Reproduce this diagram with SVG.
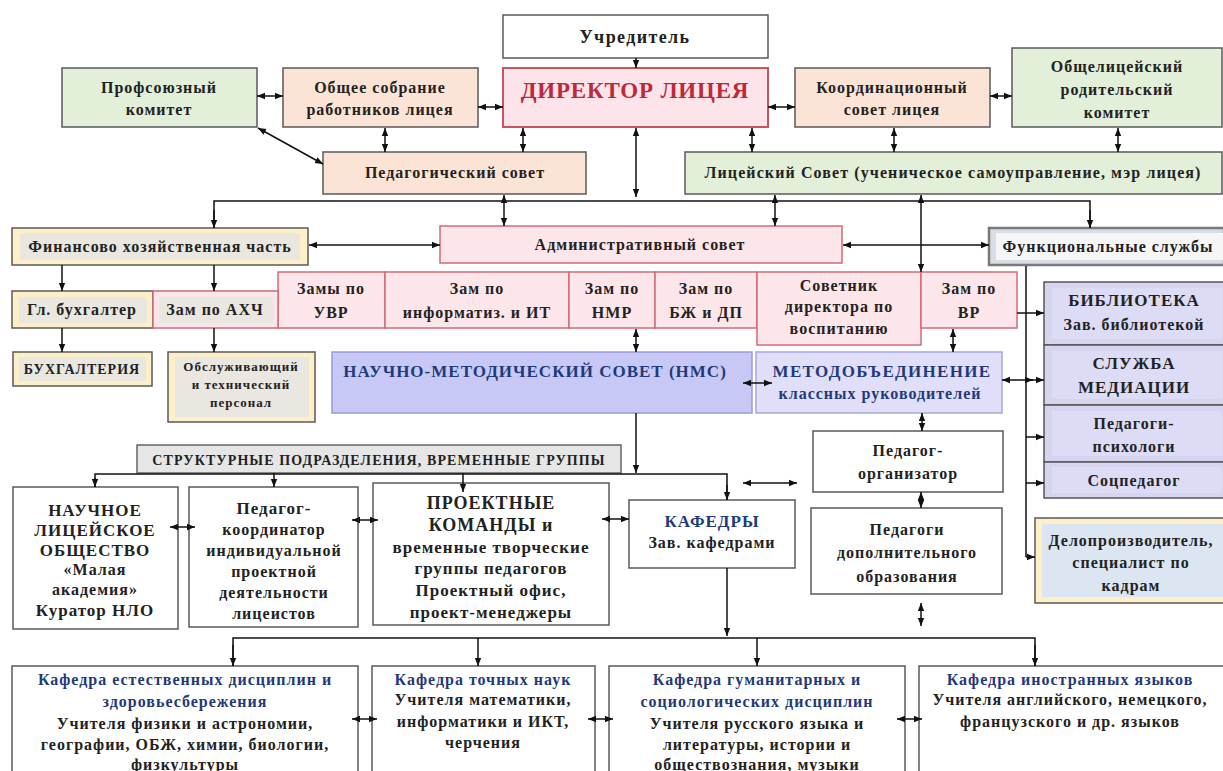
<svg xmlns="http://www.w3.org/2000/svg" width="1223" height="771" viewBox="0 0 1223 771">
<defs>
<marker id="a" viewBox="0 0 10 10" refX="10" refY="5" markerWidth="8" markerHeight="8" markerUnits="userSpaceOnUse" orient="auto-start-reverse"><path d="M0,1 L10,5 L0,9 z" fill="#111"/></marker>
<style>
.b{stroke:#5a5a5a;stroke-width:1.5}
.w{fill:#fff}
.pe{fill:#fbe4d5}
.gr{fill:#e2efd9}
.pk{fill:#fde6ea;stroke:#d46a7a;stroke-width:1.5}
.dir{fill:#fde4ea;stroke:#c9535f;stroke-width:2}
.be{fill:#fdf0c8}
.gi{fill:#e9e7df}
.fs{fill:#d8dde6;stroke:#7a7a7a;stroke-width:2.5}
.lv{fill:#d5d5ef;stroke:#555;stroke-width:1.5}
.lvi{fill:#dcdcf6}
.nms{fill:#c8c8f6;stroke:#9a9ad8;stroke-width:1.5}
.met{fill:#e0def8;stroke:#a7a7dc;stroke-width:1.5}
.bar{fill:#e6e6e6;stroke:#666;stroke-width:1.5}
.t{font-family:"Liberation Serif","Times New Roman",serif;font-weight:bold;font-size:16px;text-anchor:middle;fill:#222;letter-spacing:1px}
.s{font-size:13px}
.m{font-size:14px}
.l{font-size:17px}
.bl{fill:#1f3a7a}
.c line,.c path{stroke:#111;stroke-width:1.5;fill:none}
</style>
</defs>

<g id="uchreditel"><rect class="b w" x="503" y="15" width="265" height="43"/><text class="t" x="635" y="43" style="font-size:18px;letter-spacing:1.4px">Учредитель</text></g>
<g id="director"><rect class="dir" x="503" y="68" width="265" height="59"/><text class="t" x="635" y="98" style="font-size:23px;fill:#c0283a;letter-spacing:0.8px">ДИРЕКТОР ЛИЦЕЯ</text></g>
<g id="profkom"><rect class="b gr" x="62" y="68" width="195" height="59"/><text class="t" x="159" y="93">Профсоюзный</text><text class="t" x="159" y="115">комитет</text></g>
<g id="obshchee"><rect class="b pe" x="283" y="68" width="195" height="59"/><text class="t" x="380" y="93">Общее собрание</text><text class="t" x="380" y="115">работников лицея</text></g>
<g id="koord"><rect class="b pe" x="795" y="68" width="195" height="59"/><text class="t" x="892" y="93">Координационный</text><text class="t" x="892" y="115">совет лицея</text></g>
<g id="roditel"><rect class="b gr" x="1012" y="48" width="210" height="79"/><text class="t" x="1117" y="72">Общелицейский</text><text class="t" x="1117" y="95">родительский</text><text class="t" x="1117" y="118">комитет</text></g>
<g id="pedsovet"><rect class="b pe" x="323" y="152" width="263" height="42"/><text class="t" x="455" y="178">Педагогический совет</text></g>
<g id="litsovet"><rect class="b gr" x="685" y="152" width="537" height="42"/><text class="t" x="953" y="178" style="letter-spacing:1.1px">Лицейский Совет (ученическое самоуправление, мэр лицея)</text></g>

<g id="finance"><rect class="b be" x="12" y="228" width="296" height="37"/><rect class="gi" x="20" y="233" width="280" height="27"/><text class="t" x="160" y="252">Финансово хозяйственная часть</text></g>
<g id="admsovet"><rect class="pk" x="440" y="226" width="402" height="37"/><text class="t" x="640" y="250">Административный совет</text></g>
<g id="funcserv"><rect class="fs" x="989" y="228" width="235" height="37"/><rect fill="#f6f6f6" x="996" y="233" width="228" height="27"/><text class="t" x="1108" y="252">Функциональные службы</text></g>

<g id="uvr"><rect class="pk" x="278" y="272" width="107" height="56"/><text class="t" x="331" y="294">Замы по</text><text class="t" x="331" y="318">УВР</text></g>
<g id="it"><rect class="pk" x="385" y="272" width="184" height="56"/><text class="t" x="477" y="294">Зам по</text><text class="t" x="477" y="318">информатиз. и ИТ</text></g>
<g id="nmr"><rect class="pk" x="569" y="272" width="86" height="56"/><text class="t" x="612" y="294">Зам по</text><text class="t" x="612" y="318">НМР</text></g>
<g id="bzh"><rect class="pk" x="655" y="272" width="102" height="56"/><text class="t" x="706" y="294">Зам по</text><text class="t" x="706" y="318">БЖ и ДП</text></g>
<g id="sovetnik"><rect class="pk" x="757" y="272" width="164" height="73"/><text class="t" x="839" y="291">Советник</text><text class="t" x="839" y="312">директора по</text><text class="t" x="839" y="334">воспитанию</text></g>
<g id="vr"><rect class="pk" x="921" y="272" width="96" height="56"/><text class="t" x="969" y="294">Зам по</text><text class="t" x="969" y="318">ВР</text></g>
<g id="glbuh"><rect class="b be" x="12" y="291" width="141" height="37"/><rect class="gi" x="19" y="297" width="128" height="26"/><text class="t" x="82" y="315">Гл. бухгалтер</text></g>
<g id="ahch"><rect class="pk" x="153" y="291" width="125" height="37"/><rect class="gi" x="159" y="297" width="114" height="26"/><text class="t" x="215" y="315">Зам по АХЧ</text></g>
<g id="buhg"><rect class="b be" x="13" y="352" width="139" height="34"/><rect class="gi" x="19" y="357" width="127" height="24"/><text class="t m" x="82" y="374">БУХГАЛТЕРИЯ</text></g>
<g id="obsl"><rect class="b be" x="168" y="352" width="147" height="70"/><rect class="gi" x="175" y="357" width="134" height="60"/><text class="t s" x="241" y="371">Обслуживающий</text><text class="t s" x="241" y="389">и технический</text><text class="t s" x="241" y="407">персонал</text></g>

<g id="nms"><rect class="nms" x="332" y="352" width="420" height="61"/><text class="t bl" x="535" y="377" style="font-size:17px">НАУЧНО-МЕТОДИЧЕСКИЙ СОВЕТ (НМС)</text></g>
<g id="metod"><rect class="met" x="756" y="352" width="246" height="61"/><text class="t bl" x="882" y="377" style="font-size:17px;letter-spacing:1.3px">МЕТОДОБЪЕДИНЕНИЕ</text><text class="t bl" x="880" y="399">классных руководителей</text></g>

<g id="biblio"><rect class="lv" x="1044" y="282" width="180" height="63"/><rect class="lvi" x="1052" y="288" width="170" height="51"/><text class="t" x="1134" y="306" style="font-size:17px">БИБЛИОТЕКА</text><text class="t" x="1134" y="330">Зав. библиотекой</text></g>
<g id="mediac"><rect class="lv" x="1044" y="345" width="180" height="60"/><rect class="lvi" x="1052" y="351" width="170" height="48"/><text class="t" x="1134" y="369" style="font-size:17px">СЛУЖБА</text><text class="t" x="1134" y="393" style="font-size:17px">МЕДИАЦИИ</text></g>
<g id="psych"><rect class="lv" x="1044" y="405" width="180" height="57"/><rect class="lvi" x="1052" y="411" width="170" height="45"/><text class="t" x="1134" y="429">Педагоги-</text><text class="t" x="1134" y="452">психологи</text></g>
<g id="socped"><rect class="lv" x="1044" y="462" width="180" height="36"/><rect class="lvi" x="1052" y="467" width="170" height="26"/><text class="t" x="1134" y="486">Соцпедагог</text></g>
<g id="delopr"><rect class="b be" x="1035" y="518" width="190" height="85"/><rect fill="#dce5f2" x="1042" y="524" width="182" height="73"/><text class="t" x="1131" y="546">Делопроизводитель,</text><text class="t" x="1131" y="568">специалист по</text><text class="t" x="1131" y="591">кадрам</text></g>

<g id="pedorg"><rect class="b w" x="813" y="431" width="190" height="61"/><text class="t" x="908" y="456">Педагог-</text><text class="t" x="908" y="479">организатор</text></g>
<g id="peddop"><rect class="b w" x="811" y="508" width="191" height="86"/><text class="t" x="907" y="535">Педагоги</text><text class="t" x="907" y="558">дополнительного</text><text class="t" x="907" y="582">образования</text></g>

<g id="struct"><rect class="bar" x="137" y="445" width="484" height="28"/><text class="t m" x="379" y="465" style="letter-spacing:1.1px">СТРУКТУРНЫЕ ПОДРАЗДЕЛЕНИЯ, ВРЕМЕННЫЕ ГРУППЫ</text></g>
<g id="nlo"><rect class="b w" x="13" y="487" width="165" height="142"/><text class="t l" x="95" y="516">НАУЧНОЕ</text><text class="t l" x="95" y="536">ЛИЦЕЙСКОЕ</text><text class="t l" x="95" y="556">ОБЩЕСТВО</text><text class="t" x="95" y="575">«Малая</text><text class="t" x="95" y="595">академия»</text><text class="t l" x="95" y="616">Куратор НЛО</text></g>
<g id="pedkoord"><rect class="b w" x="189" y="487" width="169" height="140"/><text class="t l" x="274" y="514">Педагог-</text><text class="t" x="274" y="535">координатор</text><text class="t" x="274" y="556">индивидуальной</text><text class="t" x="274" y="577">проектной</text><text class="t" x="274" y="598">деятельности</text><text class="t" x="274" y="619">лицеистов</text></g>
<g id="proekt"><rect class="b w" x="373" y="483" width="236" height="142"/><text class="t" x="491" y="509" style="font-size:18px">ПРОЕКТНЫЕ</text><text class="t" x="491" y="531" style="font-size:18px">КОМАНДЫ и</text><text class="t l" x="491" y="553">временные творческие</text><text class="t l" x="491" y="574">группы педагогов</text><text class="t l" x="491" y="596">Проектный офис,</text><text class="t l" x="491" y="618">проект-менеджеры</text></g>
<g id="kafedry"><rect class="b w" x="629" y="500" width="166" height="68"/><text class="t bl" x="712" y="527" style="font-size:17px">КАФЕДРЫ</text><text class="t" x="712" y="548">Зав. кафедрами</text></g>

<g id="kaf1"><rect class="b w" x="12" y="666" width="346" height="120"/><text class="t bl" x="185" y="685">Кафедра естественных дисциплин и</text><text class="t bl" x="185" y="707">здоровьесбережения</text><text class="t" x="185" y="729">Учителя физики и астрономии,</text><text class="t" x="185" y="750">географии, ОБЖ, химии, биологии,</text><text class="t" x="185" y="770">физкультуры</text></g>
<g id="kaf2"><rect class="b w" x="372" y="666" width="223" height="120"/><text class="t bl" x="483" y="685">Кафедра точных наук</text><text class="t" x="483" y="705">Учителя математики,</text><text class="t" x="483" y="727">информатики и ИКТ,</text><text class="t" x="483" y="748">черчения</text></g>
<g id="kaf3"><rect class="b w" x="609" y="666" width="296" height="120"/><text class="t bl" x="757" y="685">Кафедра гуманитарных и</text><text class="t bl" x="757" y="707">социологических дисциплин</text><text class="t" x="757" y="729">Учителя русского языка и</text><text class="t" x="757" y="750">литературы, истории и</text><text class="t" x="757" y="770">обществознания, музыки</text></g>
<g id="kaf4"><rect class="b w" x="919" y="666" width="305" height="120"/><text class="t bl" x="1070" y="685">Кафедра иностранных языков</text><text class="t" x="1070" y="705">Учителя английского, немецкого,</text><text class="t" x="1070" y="727">французского и др. языков</text></g>

<g class="c" id="connectors">
<line x1="636" y1="58" x2="636" y2="68" marker-end="url(#a)"/>
<line x1="257" y1="96" x2="283" y2="96" marker-start="url(#a)" marker-end="url(#a)"/>
<line x1="478" y1="107" x2="503" y2="107" marker-start="url(#a)" marker-end="url(#a)"/>
<line x1="768" y1="107" x2="795" y2="107" marker-start="url(#a)" marker-end="url(#a)"/>
<line x1="990" y1="96" x2="1012" y2="96" marker-start="url(#a)" marker-end="url(#a)"/>
<line x1="258" y1="128" x2="323" y2="164" marker-start="url(#a)" marker-end="url(#a)"/>
<line x1="385" y1="128" x2="385" y2="152" marker-start="url(#a)" marker-end="url(#a)"/>
<line x1="523" y1="128" x2="523" y2="152" marker-start="url(#a)" marker-end="url(#a)"/>
<line x1="636" y1="128" x2="636" y2="197" marker-start="url(#a)" marker-end="url(#a)"/>
<line x1="752" y1="128" x2="752" y2="152" marker-start="url(#a)" marker-end="url(#a)"/>
<line x1="894" y1="128" x2="894" y2="152" marker-start="url(#a)" marker-end="url(#a)"/>
<line x1="1118" y1="128" x2="1118" y2="152" marker-start="url(#a)" marker-end="url(#a)"/>
<path d="M214,228 V201 H1090 V228"/>
<line x1="214" y1="210" x2="214" y2="228" marker-end="url(#a)"/>
<line x1="1090" y1="210" x2="1090" y2="228" marker-end="url(#a)"/>
<line x1="504" y1="195" x2="504" y2="226" marker-start="url(#a)" marker-end="url(#a)"/>
<line x1="775" y1="195" x2="775" y2="226" marker-start="url(#a)" marker-end="url(#a)"/>
<line x1="921" y1="195" x2="921" y2="272" marker-start="url(#a)" marker-end="url(#a)"/>
<line x1="309" y1="245" x2="440" y2="245" marker-start="url(#a)" marker-end="url(#a)"/>
<line x1="843" y1="245" x2="989" y2="245" marker-start="url(#a)" marker-end="url(#a)"/>
<line x1="62" y1="265" x2="62" y2="291" marker-end="url(#a)"/>
<line x1="214" y1="265" x2="214" y2="291" marker-end="url(#a)"/>
<line x1="62" y1="328" x2="62" y2="352" marker-end="url(#a)"/>
<line x1="214" y1="328" x2="214" y2="352" marker-end="url(#a)"/>
<line x1="636" y1="329" x2="636" y2="352" marker-start="url(#a)" marker-end="url(#a)"/>
<line x1="953" y1="329" x2="953" y2="352" marker-start="url(#a)" marker-end="url(#a)"/>
<line x1="1017" y1="313" x2="1044" y2="313" marker-end="url(#a)"/>
<line x1="1026" y1="266" x2="1026" y2="557"/>
<line x1="1002" y1="380" x2="1033" y2="380" marker-start="url(#a)" marker-end="url(#a)"/>
<line x1="1026" y1="380" x2="1044" y2="380" marker-end="url(#a)"/>
<line x1="1026" y1="437" x2="1044" y2="437" marker-end="url(#a)"/>
<line x1="1026" y1="483" x2="1044" y2="483" marker-end="url(#a)"/>
<line x1="1026" y1="557" x2="1035" y2="557" marker-end="url(#a)"/>
<line x1="743" y1="383" x2="772" y2="383" marker-start="url(#a)" marker-end="url(#a)"/>
<line x1="922" y1="413" x2="922" y2="431" marker-start="url(#a)" marker-end="url(#a)"/>
<line x1="921" y1="492" x2="921" y2="508" marker-start="url(#a)" marker-end="url(#a)"/>
<line x1="921" y1="603" x2="921" y2="626" marker-start="url(#a)" marker-end="url(#a)"/>
<line x1="636" y1="413" x2="636" y2="473" marker-end="url(#a)"/>
<path d="M95,487 V474 H727 V500"/>
<line x1="95" y1="478" x2="95" y2="487" marker-end="url(#a)"/>
<line x1="727" y1="485" x2="727" y2="500" marker-end="url(#a)"/>
<line x1="274" y1="473" x2="274" y2="487" marker-end="url(#a)"/>
<line x1="463" y1="473" x2="463" y2="492" marker-end="url(#a)"/>
<line x1="170" y1="527" x2="195" y2="527" marker-start="url(#a)" marker-end="url(#a)"/>
<line x1="352" y1="520" x2="378" y2="520" marker-start="url(#a)" marker-end="url(#a)"/>
<line x1="602" y1="519" x2="629" y2="519" marker-start="url(#a)" marker-end="url(#a)"/>
<line x1="743" y1="483" x2="797" y2="483" marker-start="url(#a)" marker-end="url(#a)"/>
<line x1="727" y1="568" x2="727" y2="636" marker-end="url(#a)"/>
<path d="M233,666 V638 H1035 V666"/>
<line x1="233" y1="645" x2="233" y2="666" marker-end="url(#a)"/>
<line x1="478" y1="638" x2="478" y2="666" marker-end="url(#a)"/>
<line x1="757" y1="638" x2="757" y2="666" marker-end="url(#a)"/>
<line x1="1035" y1="645" x2="1035" y2="666" marker-end="url(#a)"/>
<line x1="352" y1="719" x2="377" y2="719" marker-start="url(#a)" marker-end="url(#a)"/>
<line x1="588" y1="719" x2="613" y2="719" marker-start="url(#a)" marker-end="url(#a)"/>
<line x1="897" y1="719" x2="922" y2="719" marker-start="url(#a)" marker-end="url(#a)"/>
</g>
</svg>
